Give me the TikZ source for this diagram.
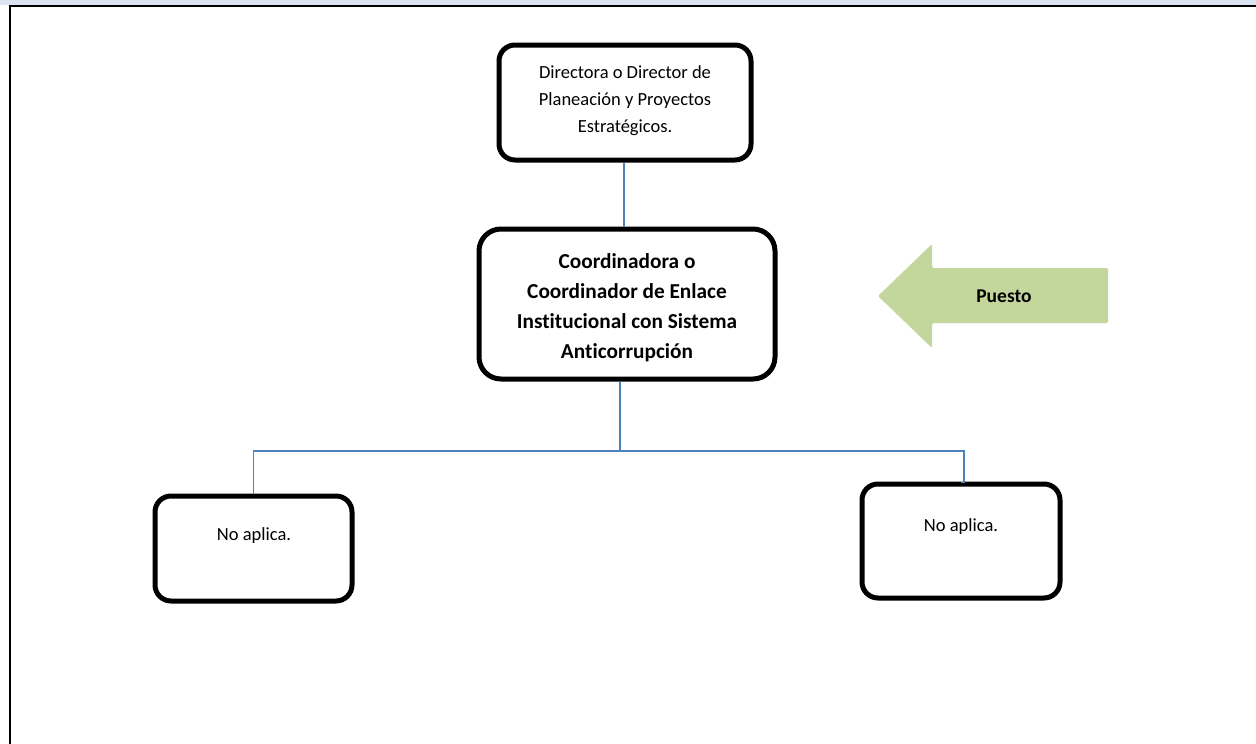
\documentclass[tikz,border=0pt]{standalone}
\usepackage{fontspec}
\setmainfont{Carlito}[Ligatures=NoCommon]
\definecolor{bandblue}{HTML}{DBE5F1}
\definecolor{linkblue}{HTML}{4F81BD}
\definecolor{arrowgreen}{HTML}{C3D69B}
\begin{document}
\begin{tikzpicture}[x=1pt,y=-1pt,
  orgbox/.style={draw=black,line width=5pt,rounded corners=16pt,fill=white,inner sep=0pt},
  conn/.style={draw=linkblue,line width=1.5pt},
  txt/.style={align=center,inner sep=0pt,font=\fontsize{18.5}{27}\selectfont},
  btxt/.style={align=center,inner sep=0pt,font=\fontsize{21.3}{30}\selectfont\bfseries}]
\useasboundingbox (0,0) rectangle (1256,744);
% page frame
\fill[bandblue] (0,0) rectangle (1256,5);
\draw[line width=2.5pt] (10,6) -- (1256,6);
\draw[line width=2.5pt] (10,5) -- (10,744);
% boxes
\node[orgbox,minimum width=252pt,minimum height=115pt] (top) at (625,102.5) {};
\node[txt] (toptxt) at (625,101) {Directora o Director de\\Planeación y Proyectos\\Estratégicos.};
\node[orgbox,rounded corners=22pt,minimum width=296pt,minimum height=150pt] (mid) at (627,304) {};
\node[btxt] (midtxt) at (627,308) {Coordinadora o\\Coordinador de Enlace\\Institucional con Sistema\\Anticorrupción};
\node[orgbox,minimum width=197pt,minimum height=105pt] (left) at (253.5,548.5) {};
\node[txt] (lefttxt) at (254,536) {No aplica.};
\node[orgbox,minimum width=198pt,minimum height=114pt] (right) at (961,541) {};
\node[txt] (righttxt) at (961,527) {No aplica.};
% connectors
\coordinate (j) at (620,451);
\draw[conn] (top.south -| 624,0) -- (mid.north -| 624,0);
\draw[conn] (mid.south -| j) -- (j);
\draw[conn] (left.north) |- (j);
\draw[conn] (j) -| ([xshift=3pt,yshift=-1pt]right.north) -- ([yshift=-1pt]right.north);
% arrow
\fill[arrowgreen,rounded corners=1.5pt] (878,296) -- (932,244) -- (932,268) -- (1108,268) -- (1108,323) -- (932,323) -- (932,348) -- cycle;
\node[inner sep=0pt,font=\fontsize{19.5}{22}\selectfont\bfseries] (puesto) at (1004,296) {Puesto};
\end{tikzpicture}
\end{document}
